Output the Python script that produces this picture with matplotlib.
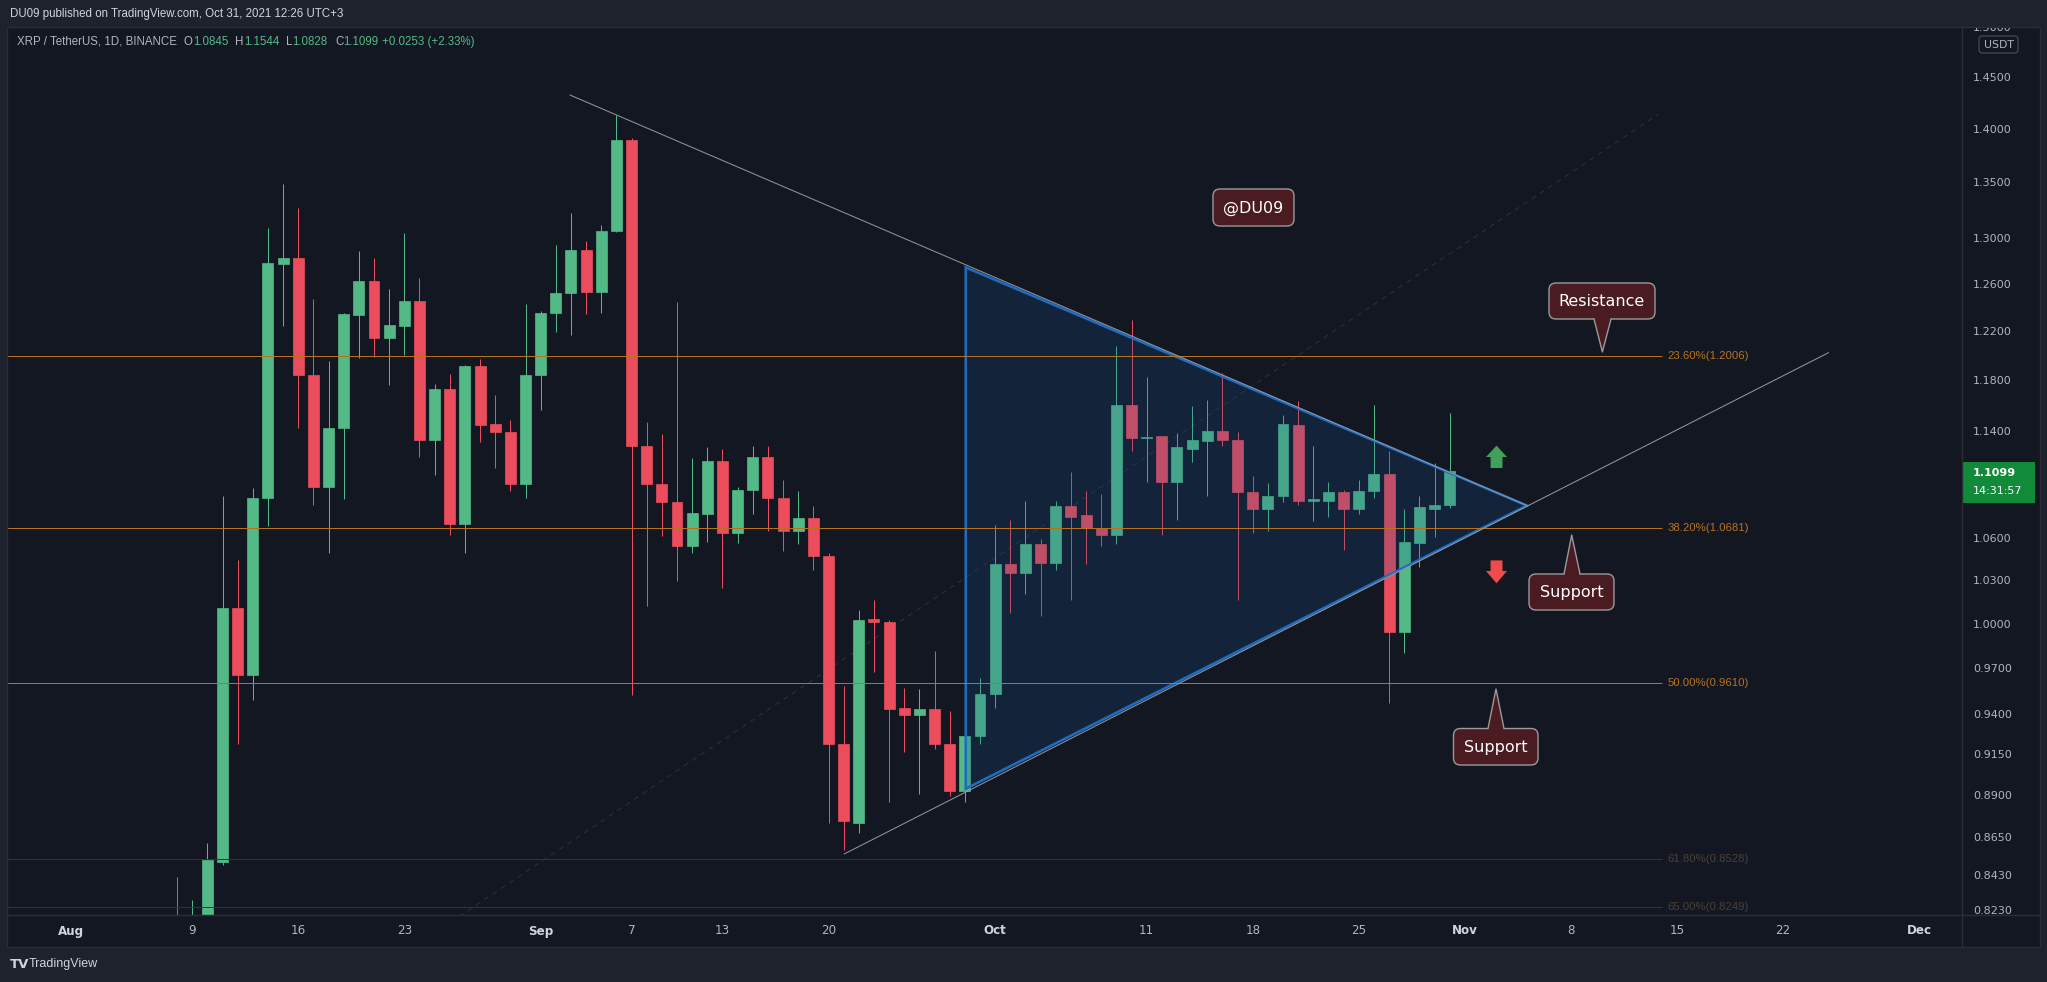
import numpy as np
import pandas as pd
import matplotlib
matplotlib.use("Agg")
import matplotlib.pyplot as plt
from matplotlib.patches import Polygon, FancyBboxPatch, Rectangle
from matplotlib.ticker import NullLocator

# ---- daily candles XRP / USDT ----
dates = pd.date_range("2021-08-08", "2021-10-31", freq="D")
opens = [0.805, 0.790, 0.815, 0.851, 1.011, 0.966, 1.090, 1.278, 1.283, 1.185, 1.098, 1.143,
         1.234, 1.263, 1.215, 1.225, 1.246, 1.134, 1.174, 1.071, 1.192, 1.146, 1.140, 1.100,
         1.185, 1.236, 1.253, 1.290, 1.254, 1.307, 1.390, 1.129, 1.100, 1.087, 1.055, 1.078,
         1.118, 1.064, 1.096, 1.121, 1.090, 1.066, 1.075, 1.048, 0.922, 0.874, 1.004, 1.002,
         0.945, 0.940, 0.944, 0.922, 0.893, 0.927,
         0.954, 1.042, 1.036, 1.056, 1.043, 1.084, 1.077, 1.068, 1.063, 1.161, 1.135, 1.137,
         1.102, 1.127, 1.133, 1.141, 1.134, 1.094, 1.082, 1.091, 1.145, 1.088, 1.088, 1.094,
         1.082, 1.095, 1.108, 0.995, 1.057, 1.082, 1.0845]
highs = [0.842, 0.829, 0.862, 1.091, 1.045, 1.097, 1.310, 1.349, 1.328, 1.248, 1.196, 1.236,
         1.289, 1.283, 1.256, 1.305, 1.266, 1.178, 1.186, 1.193, 1.198, 1.169, 1.149, 1.244,
         1.238, 1.295, 1.323, 1.298, 1.312, 1.414, 1.392, 1.148, 1.138, 1.245, 1.120, 1.128,
         1.127, 1.098, 1.129, 1.129, 1.103, 1.095, 1.084, 1.050, 0.959, 1.010, 1.017, 1.003,
         0.958, 0.957, 0.982, 0.943, 0.995, 0.964,
         1.070, 1.074, 1.088, 1.060, 1.088, 1.109, 1.095, 1.093, 1.209, 1.230, 1.183, 1.137,
         1.139, 1.160, 1.165, 1.187, 1.140, 1.106, 1.101, 1.153, 1.164, 1.129, 1.102, 1.096,
         1.103, 1.161, 1.125, 1.082, 1.091, 1.116, 1.1544]
lows = [0.775, 0.770, 0.800, 0.849, 0.922, 0.950, 1.069, 1.225, 1.143, 1.085, 1.050, 1.089,
        1.199, 1.200, 1.177, 1.201, 1.121, 1.107, 1.063, 1.050, 1.132, 1.112, 1.095, 1.090,
        1.157, 1.220, 1.218, 1.235, 1.236, 1.306, 0.953, 1.013, 1.062, 1.030, 1.050, 1.058,
        1.025, 1.057, 1.078, 1.066, 1.051, 1.056, 1.038, 0.874, 0.858, 0.868, 0.968, 0.886,
        0.917, 0.891, 0.919, 0.890, 0.886, 0.922,
        0.945, 1.008, 1.021, 1.006, 1.038, 1.017, 1.042, 1.055, 1.056, 1.125, 1.102, 1.063,
        1.074, 1.117, 1.091, 1.129, 1.017, 1.064, 1.066, 1.087, 1.085, 1.073, 1.076, 1.052,
        1.078, 1.090, 0.948, 0.981, 1.040, 1.061, 1.0828]
closes = [0.790, 0.815, 0.852, 1.011, 0.966, 1.090, 1.279, 1.283, 1.185, 1.098, 1.143, 1.235,
          1.263, 1.215, 1.226, 1.246, 1.134, 1.174, 1.071, 1.192, 1.145, 1.140, 1.100, 1.185,
          1.236, 1.253, 1.290, 1.254, 1.307, 1.390, 1.129, 1.100, 1.087, 1.055, 1.079, 1.118,
          1.064, 1.096, 1.121, 1.090, 1.066, 1.075, 1.048, 0.922, 0.875, 1.003, 1.002, 0.944,
          0.940, 0.944, 0.922, 0.893, 0.927, 0.954,
          1.042, 1.036, 1.056, 1.043, 1.084, 1.076, 1.068, 1.063, 1.161, 1.135, 1.136, 1.102,
          1.128, 1.134, 1.141, 1.134, 1.094, 1.082, 1.091, 1.146, 1.088, 1.089, 1.094, 1.082,
          1.095, 1.108, 0.995, 1.058, 1.083, 1.085, 1.1099]

# fibonacci retracement levels
fib_pct = ["23.60%", "38.20%", "50.00%", "61.80%", "65.00%"]
fib_val = [1.2006, 1.0681, 0.9610, 0.8528, 0.8249]
fib_bright = [True, True, True, False, False]

# price / time axis labels
price_ticks = [1.5, 1.45, 1.40, 1.35, 1.30, 1.26, 1.22, 1.18, 1.14, 1.06, 1.03, 1.00,
               0.97, 0.94, 0.915, 0.89, 0.865, 0.843, 0.823]
time_labels = ["Aug", "9", "16", "23", "Sep", "7", "13", "20", "Oct", "11", "18", "25",
               "Nov", "8", "15", "22", "Dec"]
time_dates = ["2021-08-01", "2021-08-09", "2021-08-16", "2021-08-23", "2021-09-01",
              "2021-09-07", "2021-09-13", "2021-09-20", "2021-10-01", "2021-10-11",
              "2021-10-18", "2021-10-25", "2021-11-01", "2021-11-08", "2021-11-15",
              "2021-11-22", "2021-12-01"]

last_price = 1.1099

# drawings (day offset from Aug 1, price)
upper_line = ([32.94, 96.1], [1.4336, 1.0843])
lower_line = ([51.04, 116.0], [0.8555, 1.2031])
fib_trend = ([15.0, 104.75], [0.762, 1.4148])
fib_end = 105.0
triangle = [(59.06, 1.275), (96.1, 1.0843), (59.06, 0.8943)]

# ---- styling ----
W, H = 2047, 982
BG = "#131722"
FRAME = "#1e222d"
BORDER = "#2a2e39"
UP = "#53b987"
DOWN = "#eb4d5c"
TXT = "#b2b5be"
FIB = "#b8721f"
FIB_DIM = "#3b3128"
PT = 0.72  # one pixel in points

T0 = pd.Timestamp("2021-08-01")
day = (dates - T0).days.values

fig = plt.figure(figsize=(W / 100, H / 100), dpi=100, facecolor=FRAME)

base = fig.add_axes([0, 0, 1, 1], zorder=0)
base.set_xlim(0, W)
base.set_ylim(H, 0)
base.axis("off")
base.add_patch(Rectangle((7, 27), 2033, 920, facecolor=BG, edgecolor="none"))

L, R, T, B = 8, 1962, 28, 915
ax = fig.add_axes([L / W, 1 - B / H, (R - L) / W, (B - T) / H], zorder=1)
ax.set_facecolor(BG)
ax.set_yscale("log")
ax.set_xlim((L - 71) / 15.15, (R - 71) / 15.15)
ax.set_ylim(0.8207, 1.5005)
ax.set_xticks([])
ax.set_yticks([])
ax.yaxis.set_minor_locator(NullLocator())
for s in ax.spines.values():
    s.set_visible(False)

o = np.array(opens)
c = np.array(closes)
col = np.where(c >= o, UP, DOWN)
ax.vlines(day, lows, highs, colors=col, linewidth=PT, zorder=2)
bot = np.minimum(o, c)
top = np.maximum(o, c)
ax.bar(day, top - bot, bottom=bot, width=0.72, color=col, edgecolor=col,
       linewidth=0.5, zorder=3)

# fib levels
for v, bright in zip(fib_val, fib_bright):
    ax.hlines(v, -10, fib_end, colors=FIB if bright else FIB_DIM, linewidth=PT, zorder=6)

# fib trend (dashed) and trend lines
ax.plot(*fib_trend, color="#34312d", linewidth=PT, dashes=(5, 5), zorder=1.5)
ax.add_patch(Polygon(triangle, closed=True, facecolor=(0.06, 0.34, 0.62, 0.2),
                     edgecolor="none", zorder=4))
ax.add_patch(Polygon(triangle, closed=True, facecolor="none", edgecolor="#1f6cbf",
                     linewidth=1.9, joinstyle="miter", zorder=5))
ax.plot(*upper_line, color="#9598a1", linewidth=PT, zorder=7)
ax.plot(*lower_line, color="#9598a1", linewidth=PT, zorder=7)

fig.canvas.draw()


def ypx(p):
    return H - ax.transData.transform((0, p))[1]


def xpx(d):
    return ax.transData.transform((d, 1))[0]


ov = fig.add_axes([0, 0, 1, 1], zorder=10)
ov.set_xlim(0, W)
ov.set_ylim(H, 0)
ov.axis("off")
ov.patch.set_alpha(0)

# frame lines
for xs, ys in [((7, 2040), (27, 27)), ((7, 2040), (947, 947)), ((7, 7), (27, 947)),
               ((2040, 2040), (27, 947)), ((1962, 1962), (27, 947)), ((7, 2040), (915, 915))]:
    ov.plot(xs, ys, color=BORDER, linewidth=1.0, solid_capstyle="butt")

# fib labels
for lab, v, bright in zip(fib_pct, fib_val, fib_bright):
    t = ov.text(xpx(fib_end) + 6, ypx(v), f"{lab}({v:.4f})", color=FIB if bright else "#4a4038",
                fontsize=8.2, family="Liberation Sans", va="center", ha="left", clip_on=True)
    t.set_clip_path(Rectangle((8, 28), 1954, 887, transform=ov.transData))

# price axis
for p in price_ticks:
    t = ov.text(1973, ypx(p), f"{p:.4f}", color=TXT, fontsize=8.0, family="DejaVu Sans",
                va="center", ha="left", clip_on=True)
    t.set_clip_path(Rectangle((1962, 28), 78, 887, transform=ov.transData))
ov.add_patch(FancyBboxPatch((1979, 36), 39, 17, boxstyle="round,pad=0,rounding_size=3",
                            facecolor=BG, edgecolor="#4a4e59", linewidth=0.8))
ov.text(1998.5, 44.5, "USDT", color=TXT, fontsize=7.8, ha="center", va="center")
yl = ypx(last_price)
ov.add_patch(Rectangle((1962, yl - 9), 73, 41, facecolor="#118a3a", edgecolor="none"))
ov.text(1973, yl + 2, f"{last_price:.4f}", color="white", fontsize=8.0, fontweight="bold",
        va="center", ha="left")
ov.text(1973, yl + 20, "14:31:57", color="white", fontsize=8.0, va="center", ha="left")

# time axis
for lab, d in zip(time_labels, time_dates):
    dd = (pd.Timestamp(d) - T0).days
    month = not lab.isdigit()
    ov.text(xpx(dd), 931, lab, color="#d1d4dc" if month else TXT, fontsize=8.6,
            fontweight="bold" if month else "normal", ha="center", va="center")

# header + legend
ov.text(10, 14, "DU09 published on TradingView.com, Oct 31, 2021 12:26 UTC+3", color="#d1d4dc",
        fontsize=8.3, family="Liberation Sans", va="center", ha="left")
legend = [(17, "XRP / TetherUS, 1D, BINANCE", TXT), (183, "O", TXT), (192.7, "1.0845", UP),
          (235, "H", TXT), (244.3, "1.1544", UP), (286, "L", TXT), (292, "1.0828", UP),
          (335, "C", TXT), (343.3, "1.1099", UP), (381.7, "+0.0253 (+2.33%)", UP)]
for x, s, cc in legend:
    ov.text(x, 41.5, s, color=cc, fontsize=8.3, family="Liberation Sans", va="center", ha="left")

# bottom logo
ov.text(10, 964, "TV", color="#d1d4dc", fontsize=9.5, fontweight="bold", va="center", ha="left")
ov.text(29, 964, "TradingView", color="#d1d4dc", fontsize=9.0, family="Liberation Sans",
        va="center", ha="left")

# callouts
BOX = "#4a1b21"
EDGE = "#9a9a9a"


def callout(x0, x1, y0, y1, text, tip=None, base=None, fs=11.5):
    ov.add_patch(FancyBboxPatch((x0, y0), x1 - x0, y1 - y0,
                                boxstyle="round,pad=0,rounding_size=7",
                                facecolor=BOX, edgecolor=EDGE, linewidth=1.0, zorder=3))
    if tip is not None:
        bx0, bx1 = base
        by = y1 if tip[1] > y1 else y0
        inner = by - 1.5 if tip[1] > y1 else by + 1.5
        ov.add_patch(Polygon([(bx0, inner), (tip[0], tip[1]), (bx1, inner)], closed=True,
                             facecolor=BOX, edgecolor="none", zorder=4))
        ov.plot([bx0, tip[0], bx1], [by, tip[1], by], color=EDGE, linewidth=1.0, zorder=5)
    ov.text((x0 + x1) / 2, (y0 + y1) / 2 + 1, text, color="white", fontsize=fs,
            ha="center", va="center", zorder=6)


callout(1213, 1294, 189, 226, "@DU09", fs=11.5)
callout(1549, 1655, 283, 319, "Resistance", tip=(1602.4, 352), base=(1594, 1611))
callout(1529, 1614, 574, 610, "Support", tip=(1571.7, 535), base=(1564, 1580))
callout(1453.5, 1538, 728.5, 765, "Support", tip=(1496, 689), base=(1488, 1504))

# arrows
ov.add_patch(Polygon([(1496.5, 445.6), (1507, 457), (1502.5, 457), (1502.5, 468),
                      (1490.6, 468), (1490.6, 457), (1486, 457)], closed=True,
                     facecolor="#43a05a", edgecolor="none"))
ov.add_patch(Polygon([(1496.5, 583.3), (1507, 571), (1502.5, 571), (1502.5, 560.4),
                      (1490.6, 560.4), (1490.6, 571), (1486, 571)], closed=True,
                     facecolor="#ef4b4b", edgecolor="none"))

fig.savefig("out.png", dpi=100, facecolor=FRAME)
